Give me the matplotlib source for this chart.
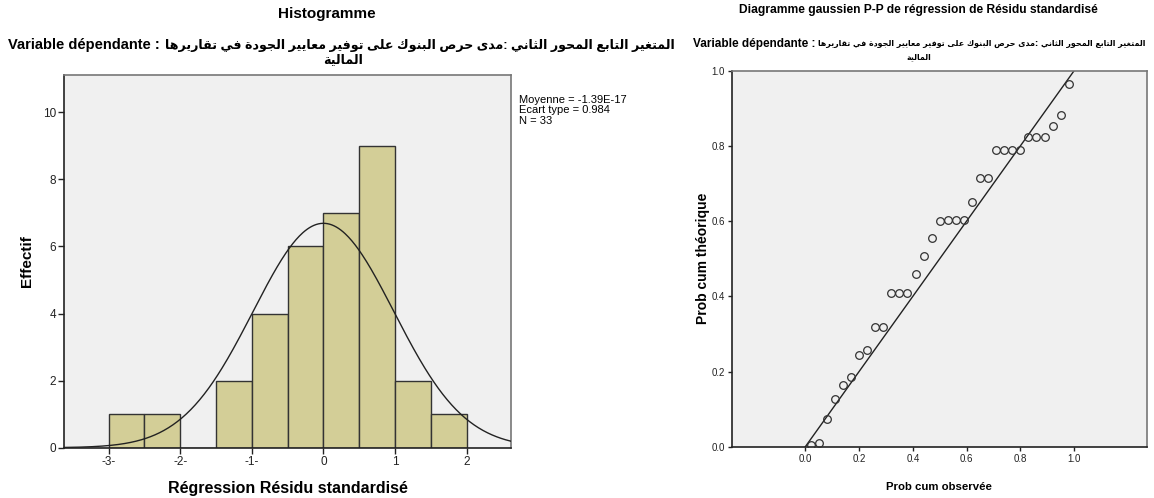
import numpy as np
import matplotlib
matplotlib.use("Agg")
import matplotlib.pyplot as plt

# histogramme des résidus standardisés
bin_edges = [-3.0, -2.5, -2.0, -1.5, -1.0, -0.5, 0.0, 0.5, 1.0, 1.5, 2.0]
bin_counts = [1, 1, 0, 2, 4, 6, 7, 9, 2, 1]
hist_ticks = [-3, -2, -1, 0, 1, 2]
hist_tick_labels = ["-3-", "-2-", "-1-", "0", "1", "2"]
res_mean = -1.39e-17
res_std = 0.984
n_obs = 33

# diagramme P-P (prob cum observée / théorique)
pp_observed = [0.02, 0.05, 0.08, 0.11, 0.14, 0.17, 0.20, 0.23, 0.26, 0.29, 0.32,
               0.35, 0.38, 0.41, 0.44, 0.47, 0.50, 0.53, 0.56, 0.59, 0.62, 0.65,
               0.68, 0.71, 0.74, 0.77, 0.80, 0.83, 0.86, 0.89, 0.92, 0.95, 0.98]
pp_expected = [0.005, 0.010, 0.074, 0.127, 0.163, 0.185, 0.243, 0.257, 0.318, 0.318, 0.410,
               0.410, 0.410, 0.458, 0.506, 0.555, 0.599, 0.602, 0.602, 0.602, 0.650, 0.714,
               0.714, 0.790, 0.790, 0.790, 0.790, 0.825, 0.825, 0.825, 0.854, 0.881, 0.965]
pp_ticks = [0.0, 0.2, 0.4, 0.6, 0.8, 1.0]

label_fr = "Variable dépendante : "
label_ar = "المتغير التابع المحور الثاني :مدى حرص البنوك على توفير معايير الجودة في تقاريرها"
label_ar2 = "المالية"

# formes de présentation arabes (isolée, finale, initiale, médiane)
FORMS = {
    'ا': (0xFE8D, 2), 'ب': (0xFE8F, 4), 'ة': (0xFE93, 2), 'ت': (0xFE95, 4), 'ث': (0xFE99, 4),
    'ج': (0xFE9D, 4), 'ح': (0xFEA1, 4), 'د': (0xFEA9, 2), 'ر': (0xFEAD, 2), 'ص': (0xFEB9, 4),
    'ع': (0xFEC9, 4), 'غ': (0xFECD, 4), 'ف': (0xFED1, 4), 'ق': (0xFED5, 4), 'ك': (0xFED9, 4),
    'ل': (0xFEDD, 4), 'م': (0xFEE1, 4), 'ن': (0xFEE5, 4), 'ه': (0xFEE9, 4), 'و': (0xFEED, 2),
    'ى': (0xFEEF, 2), 'ي': (0xFEF1, 4),
}

def arabe(txt):
    out = []
    for i, c in enumerate(txt):
        if c not in FORMS:
            out.append(c)
            continue
        base, n = FORMS[c]
        prev = txt[i - 1] if i > 0 else ''
        nxt = txt[i + 1] if i + 1 < len(txt) else ''
        j_prev = prev in FORMS and FORMS[prev][1] == 4
        j_next = n == 4 and nxt in FORMS
        if j_prev and j_next: k = 3
        elif j_prev: k = 1
        elif j_next: k = 2
        else: k = 0
        out.append(chr(base + k))
    return ''.join(out)[::-1]

FAM = ['Liberation Sans', 'DejaVu Sans']
COND = ['DejaVu Sans Condensed', 'DejaVu Sans']
plt.rcParams['font.family'] = FAM

fig = plt.figure(figsize=(11.54, 4.98), dpi=100)
W, H = 1154, 498
rend = fig.canvas.get_renderer()

def box(x0, y0, x1, y1):
    return [x0 / W, 1 - y1 / H, (x1 - x0) / W, (y1 - y0) / H]

def sous_titre(y, x0, x1, y2, xc2, fr_size, ar_fam):
    # partie latine à gauche, partie arabe ajustée jusqu'à x1
    t1 = fig.text(x0 / W, 1 - y / H, label_fr, ha='left', va='center',
                  fontsize=fr_size, fontweight='bold')
    xs = t1.get_window_extent(rend).x1 + 1
    t2 = fig.text(x1 / W, 1 - y / H, arabe(label_ar), ha='right', va='center',
                  fontsize=10, fontweight='bold', family=ar_fam)
    size = 10 * (x1 - xs) / t2.get_window_extent(rend).width
    t2.set_fontsize(size)
    fig.text(xc2 / W, 1 - y2 / H, arabe(label_ar2), ha='center', va='center',
             fontsize=size, fontweight='bold', family=ar_fam)

bg = '#F0F0F0'

# ---- Histogramme
ax1 = fig.add_axes(box(64.3, 74.7, 511, 447.7))
ax1.set_facecolor(bg)
ax1.bar(bin_edges[:-1], bin_counts, width=np.diff(bin_edges), align='edge',
        color='#D3CE97', edgecolor='#333333', linewidth=1.0, zorder=2)
xs = np.linspace(-3.62, 2.62, 400)
dens = n_obs * 0.5 / (res_std * np.sqrt(2 * np.pi)) * np.exp(-0.5 * ((xs - res_mean) / res_std) ** 2)
ax1.plot(xs, dens, color='#222222', lw=1.0, zorder=3)
ax1.set_xlim(-3.62, 2.62)
ax1.set_ylim(0, 11.12)
ax1.set_xticks(hist_ticks)
ax1.set_xticklabels(hist_tick_labels)
ax1.set_yticks([0, 2, 4, 6, 8, 10])
ax1.tick_params(labelsize=8.5, length=4, width=1, colors='#222222', pad=2)
ax1.set_xlabel("Régression Résidu standardisé", fontsize=11.5, fontweight='bold', labelpad=9)
ax1.set_ylabel("Effectif", fontsize=11, fontweight='bold', labelpad=6)
for s in ['top', 'right']:
    ax1.spines[s].set_color('#777777')
for s in ['left', 'bottom']:
    ax1.spines[s].set_color('#222222')
for s in ax1.spines.values():
    s.set_linewidth(1.2)

fig.text(327 / W, 1 - 14 / H, "Histogramme", ha='center', va='center',
         fontsize=11, fontweight='bold')
sous_titre(45, 8, 675, 60, 343, 10.5, FAM)
fig.text(519 / W, 1 - 95 / H,
         "Moyenne = %.2E\nEcart type = %.3f\nN = %d" % (res_mean, res_std, n_obs),
         ha='left', va='top', fontsize=8, linespacing=1.05)

# ---- Diagramme P-P
ax2 = fig.add_axes(box(731.7, 70.7, 1146.7, 446.7))
ax2.set_facecolor(bg)
ax2.plot([0, 1], [0, 1], color='#222222', lw=1.0, zorder=2)
ax2.plot(pp_observed, pp_expected, 'o', mfc='none', mec='#333333', mew=0.9, ms=5.5, zorder=3)
ax2.set_xlim(-0.274, 1.27)
ax2.set_ylim(0, 1.0)
ax2.set_xticks(pp_ticks)
ax2.set_yticks(pp_ticks)
ax2.set_xticklabels(["%.1f" % t for t in pp_ticks])
ax2.set_yticklabels(["%.1f" % t for t in pp_ticks])
ax2.tick_params(labelsize=7, length=3, width=1, colors='#222222', pad=2)
ax2.set_xlabel("Prob cum observée", fontsize=8.2, fontweight='bold', labelpad=13)
ax2.set_ylabel("Prob cum théorique", fontsize=10, fontweight='bold', labelpad=1)
for s in ['top', 'right']:
    ax2.spines[s].set_color('#777777')
for s in ['left', 'bottom']:
    ax2.spines[s].set_color('#222222')
for s in ax2.spines.values():
    s.set_linewidth(1.2)

fig.text(918 / W, 1 - 10 / H, "Diagramme gaussien P-P de régression de Résidu standardisé",
         ha='center', va='center', fontsize=8.65, fontweight='bold')
sous_titre(44, 693, 1145, 57, 919, 8.5, COND)

fig.savefig("out.png", dpi=100, facecolor='white')
